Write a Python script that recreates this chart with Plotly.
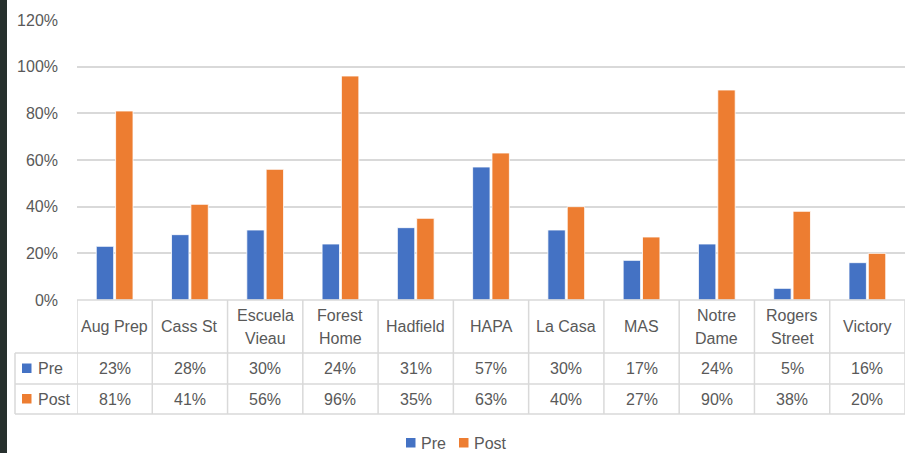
import plotly.graph_objects as go

# ---- data ----
schools = ["Aug Prep", "Cass St", "Escuela Vieau", "Forest Home", "Hadfield", "HAPA",
           "La Casa", "MAS", "Notre Dame", "Rogers Street", "Victory"]
header_lines = [["Aug Prep"], ["Cass St"], ["Escuela", "Vieau"], ["Forest", "Home"],
                ["Hadfield"], ["HAPA"], ["La Casa"], ["MAS"], ["Notre", "Dame"],
                ["Rogers", "Street"], ["Victory"]]
pre = [23, 28, 30, 24, 31, 57, 30, 17, 24, 5, 16]
post = [81, 41, 56, 96, 35, 63, 40, 27, 90, 38, 20]
series = [("Pre", pre), ("Post", post)]
y_ticks = [0, 20, 40, 60, 80, 100, 120]
y_tick_labels = [f"{v}%" for v in y_ticks]

# ---- style ----
W, H = 916, 453
ML, MR, MT, MB = 77, 11, 20, 153
PW, PH = W - ML - MR, H - MT - MB
BLUE, ORANGE = "#4472C4", "#ED7D31"
colors = [BLUE, ORANGE]
TXT = "#595959"
GRID = "#D9D9D9"
FONT = "Liberation Sans, Arial, sans-serif"
FS = 16


def px2x(px):
    return (px - ML) / PW


def py2y(py):
    return (MT + PH - py) / PH


fig = go.Figure()
idx = list(range(len(schools)))
for (name, vals), col in zip(series, colors):
    fig.add_trace(go.Bar(
        x=idx, y=vals, name=name,
        marker=dict(color=col, line=dict(color="white", width=0.8)),
        hovertext=schools, showlegend=False,
    ))

shapes = []
annotations = []

# dark strip at left edge
shapes.append(dict(type="rect", xref="paper", yref="paper",
                   x0=px2x(0), x1=px2x(7), y0=py2y(H), y1=py2y(0),
                   fillcolor="#27302E", line=dict(width=0), layer="above"))

# table geometry (pixel rows)
ROW_TOP, ROW_HDR, ROW_PRE, ROW_POST = 300, 353, 384, 414
LABEL_LEFT = 15
line = dict(color=GRID, width=1.5)

shapes.append(dict(type="line", xref="paper", yref="paper", x0=0, x1=1,
                   y0=py2y(ROW_TOP), y1=py2y(ROW_TOP), line=line))
for r in (ROW_HDR, ROW_PRE, ROW_POST):
    shapes.append(dict(type="line", xref="paper", yref="paper",
                       x0=px2x(LABEL_LEFT), x1=1, y0=py2y(r), y1=py2y(r), line=line))
for i in range(len(schools) + 1):
    shapes.append(dict(type="line", xref="x", yref="paper", x0=i - 0.5, x1=i - 0.5,
                       y0=py2y(ROW_TOP), y1=py2y(ROW_POST), line=line))
shapes.append(dict(type="line", xref="paper", yref="paper", x0=px2x(LABEL_LEFT),
                   x1=px2x(LABEL_LEFT), y0=py2y(ROW_HDR), y1=py2y(ROW_POST), line=line))

# header labels
hdr_mid = (ROW_TOP + ROW_HDR) / 2
for i, lines in enumerate(header_lines):
    n = len(lines)
    for k, t in enumerate(lines):
        yc = hdr_mid + (k - (n - 1) / 2) * 23
        annotations.append(dict(xref="x", yref="paper", x=i, y=py2y(yc), text=t,
                                showarrow=False, xanchor="center", yanchor="middle",
                                font=dict(family=FONT, size=FS, color=TXT)))

# data rows
row_bounds = [(ROW_HDR, ROW_PRE), (ROW_PRE, ROW_POST)]
for (name, vals), col, (r0, r1) in zip(series, colors, row_bounds):
    yc = (r0 + r1) / 2
    shapes.append(dict(type="rect", xref="paper", yref="paper",
                       x0=px2x(22), x1=px2x(31.5), y0=py2y(yc - 5), y1=py2y(yc + 4.5),
                       fillcolor=col, line=dict(width=0)))
    annotations.append(dict(xref="paper", yref="paper", x=px2x(36), y=py2y(yc),
                            text=name, showarrow=False, xanchor="left", yanchor="middle",
                            font=dict(family=FONT, size=FS, color=TXT)))
    for i, v in enumerate(vals):
        annotations.append(dict(xref="x", yref="paper", x=i, y=py2y(yc),
                                text=f"{v}%", showarrow=False, xanchor="center",
                                yanchor="middle",
                                font=dict(family=FONT, size=FS, color=TXT)))

# legend (drawn below the table)
LEG_Y = 443
leg_x = [406, 459]
for (name, _), col, lx in zip(series, colors, leg_x):
    shapes.append(dict(type="rect", xref="paper", yref="paper",
                       x0=px2x(lx), x1=px2x(lx + 9.5), y0=py2y(LEG_Y - 5),
                       y1=py2y(LEG_Y + 4.5), fillcolor=col, line=dict(width=0)))
    annotations.append(dict(xref="paper", yref="paper", x=px2x(lx + 13), y=py2y(LEG_Y),
                            text=name, showarrow=False, xanchor="left", yanchor="middle",
                            font=dict(family=FONT, size=FS, color=TXT)))

fig.update_layout(
    width=W, height=H, autosize=False,
    margin=dict(l=ML, r=MR, t=MT, b=MB),
    paper_bgcolor="white", plot_bgcolor="white",
    barmode="group", bargap=0.486, bargroupgap=0.1,
    font=dict(family=FONT, size=FS, color=TXT),
    shapes=shapes, annotations=annotations,
    showlegend=False,
    xaxis=dict(range=[-0.5, len(schools) - 0.5], showticklabels=False,
               showgrid=False, zeroline=False, showline=False, ticks=""),
    yaxis=dict(range=[0, 120], tickvals=y_ticks, ticktext=y_tick_labels,
               tickmode="array",
               showgrid=True, gridcolor=GRID, gridwidth=1.5, zeroline=False,
               showline=False, ticks="", ticklabelstandoff=18,
               tickfont=dict(family=FONT, size=FS, color=TXT)),
)

fig.write_html("out.html")
